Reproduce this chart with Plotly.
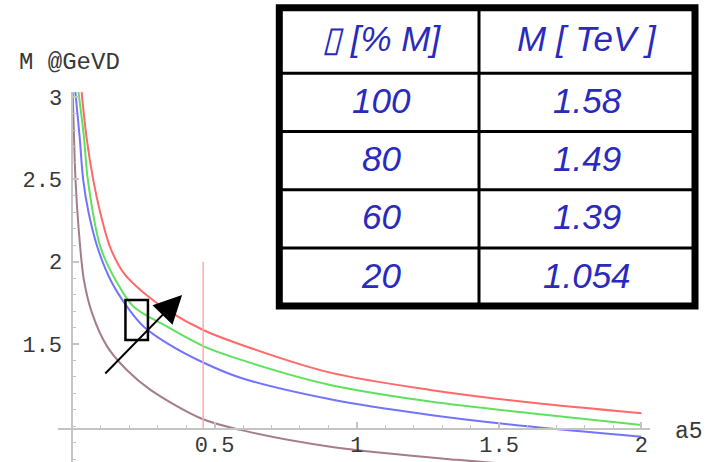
import numpy as np
import plotly.graph_objects as go

# ---------------- data ----------------
red_x = [0.033, 0.050, 0.074, 0.099, 0.133, 0.181, 0.252, 0.334, 0.46, 0.591, 0.907, 1.258, 1.610, 2.0]
red_y = [3.03, 2.759, 2.496, 2.295, 2.089, 1.931, 1.810, 1.706, 1.585, 1.497, 1.326, 1.221, 1.144, 1.079]

green_x = [0.022, 0.041, 0.055, 0.099, 0.152, 0.216, 0.334, 0.462, 0.591, 0.907, 1.258, 1.610, 2.0]
green_y = [3.03, 2.759, 2.496, 2.090, 1.889, 1.726, 1.605, 1.486, 1.405, 1.251, 1.150, 1.079, 1.008]

blue_x = [0.011, 0.026, 0.0386, 0.058, 0.088, 0.1345, 0.193, 0.2515, 0.334, 0.462, 0.591, 0.907, 1.258, 1.610, 2.0]
blue_y = [3.03, 2.759, 2.496, 2.294, 2.091, 1.889, 1.726, 1.605, 1.504, 1.386, 1.295, 1.164, 1.069, 0.998, 0.937]

brown_x = [0.002, 0.0116, 0.023, 0.041, 0.070, 0.123, 0.190, 0.275, 0.451, 0.591, 0.907, 1.352, 1.700, 2.0]
brown_y = [3.03, 2.496, 2.190, 1.889, 1.686, 1.484, 1.345, 1.221, 1.049, 0.978, 0.876, 0.796, 0.750, 0.720]

cut_x = [0.46, 0.46]
cut_y = [0.985, 2.0]

x_tick_vals = [0.5, 1, 1.5, 2]
x_tick_text = ["0.5", "1", "1.5", "2"]
y_tick_vals = [1.5, 2, 2.5, 3]
y_tick_text = ["1.5", "2", "2.5", "3"]

y_label = "M @GeVD"
x_label = "a5"

table_header = ["\u25af [% M]", "M [ TeV ]"]
table_gamma = ["100", "80", "60", "20"]
table_mass = ["1.58", "1.49", "1.39", "1.054"]

# ---------------- layout geometry ----------------
W, H = 713, 462
ML, MR, MT, MB = 58, 63, 92, 0
PW, PH = W - ML - MR, H - MT - MB
x_range = [-0.05, 2.03]
y_range = [0.783, 3.031]
axis_cross_y = 0.985


def fx(px):
    return (px - ML) / PW


def fy(py):
    return (H - MB - py) / PH


fig = go.Figure()

curve_styles = [
    (brown_x, brown_y, "rgb(165,125,135)"),
    (blue_x, blue_y, "rgb(115,115,255)"),
    (green_x, green_y, "rgb(95,225,95)"),
    (red_x, red_y, "rgb(255,105,105)"),
]
for xs, ys, col in curve_styles:
    fig.add_trace(go.Scatter(x=xs, y=ys, mode="lines",
                             line=dict(color=col, width=2, shape="spline", smoothing=0.9),
                             hoverinfo="skip", showlegend=False))

fig.add_trace(go.Scatter(x=cut_x, y=cut_y, mode="lines",
                         line=dict(color="rgb(255,170,170)", width=1.5),
                         hoverinfo="skip", showlegend=False))

tick_font = dict(family="Liberation Mono", size=22, color="#383838")
axis_col = "#c4c4c4"

fig.update_layout(
    width=W, height=H,
    margin=dict(l=ML, r=MR, t=MT, b=MB, pad=0),
    paper_bgcolor="white", plot_bgcolor="white",
    showlegend=False,
    xaxis=dict(range=x_range, showgrid=False, zeroline=False,
               showline=True, linecolor=axis_col, linewidth=1.5,
               anchor="free", position=(axis_cross_y - y_range[0]) / (y_range[1] - y_range[0]),
               tickmode="array", tickvals=x_tick_vals, ticktext=x_tick_text,
               ticks="inside", ticklen=6, tickcolor=axis_col, tickwidth=1.5,
               tickfont=tick_font, ticklabelstandoff=-4,
               minor=dict(tickmode="array", tickvals=list(np.round(np.arange(0.0, 2.01, 0.1), 2)),
                          ticks="inside", ticklen=3, tickcolor=axis_col, tickwidth=1)),
    yaxis=dict(range=y_range, showgrid=False, zeroline=False,
               showline=True, linecolor=axis_col, linewidth=1.5,
               anchor="free", position=(0 - x_range[0]) / (x_range[1] - x_range[0]),
               tickmode="array", tickvals=y_tick_vals, ticktext=y_tick_text,
               ticks="inside", ticklen=6, tickcolor=axis_col, tickwidth=1.5,
               tickfont=tick_font, ticklabelstandoff=5,
               minor=dict(tickmode="array", tickvals=list(np.round(np.arange(0.8, 3.01, 0.1), 2)),
                          ticks="inside", ticklen=3, tickcolor=axis_col, tickwidth=1)),
)

# axis labels
fig.add_annotation(text=y_label, xref="paper", yref="paper", x=fx(17), y=fy(63),
                   xanchor="left", yanchor="middle", showarrow=False,
                   font=dict(family="Liberation Mono", size=24, color="#383838"))
fig.add_annotation(text=x_label, xref="paper", yref="paper", x=fx(673), y=fy(432),
                   xanchor="left", yanchor="middle", showarrow=False,
                   font=dict(family="Liberation Mono", size=23, color="#383838"))

# box and arrow on the plot
fig.add_shape(type="rect", xref="x", yref="y", x0=0.187, x1=0.266, y0=1.524, y1=1.767,
              line=dict(color="black", width=2.5), fillcolor="rgba(0,0,0,0)")
fig.add_annotation(x=0.386, y=1.798, ax=0.111, ay=1.312, xref="x", yref="y",
                   axref="x", ayref="y", text="", showarrow=True,
                   arrowhead=2, arrowsize=2.8, arrowwidth=2, arrowcolor="black", standoff=0)

# ---------------- table ----------------
tab_left, tab_right, tab_mid = 279.3, 695.0, 479.0
row_bounds = [7.8, 73.3, 131.5, 189.8, 248.0, 306.0]
text_font = dict(family="Liberation Sans", size=35, color="rgb(42,42,188)")

fig.add_shape(type="rect", xref="paper", yref="paper",
              x0=fx(tab_left), x1=fx(tab_right), y0=fy(row_bounds[-1]), y1=fy(row_bounds[0]),
              line=dict(color="black", width=7), fillcolor="white", layer="above")
for yb in row_bounds[1:-1]:
    fig.add_shape(type="line", xref="paper", yref="paper",
                  x0=fx(tab_left), x1=fx(tab_right), y0=fy(yb), y1=fy(yb),
                  line=dict(color="black", width=3))
fig.add_shape(type="line", xref="paper", yref="paper",
              x0=fx(tab_mid), x1=fx(tab_mid), y0=fy(row_bounds[0]), y1=fy(row_bounds[-1]),
              line=dict(color="black", width=3))

col_centres = [(tab_left + tab_mid) / 2 + 2, (tab_mid + tab_right) / 2]
rows = [table_header] + [[g, m] for g, m in zip(table_gamma, table_mass)]
for i, row in enumerate(rows):
    yc = (row_bounds[i] + row_bounds[i + 1]) / 2 - 2
    for j, txt in enumerate(row):
        fig.add_annotation(text="<i>" + txt + "</i>", xref="paper", yref="paper",
                           x=fx(col_centres[j]), y=fy(yc), xanchor="center", yanchor="middle",
                           showarrow=False, font=text_font)

fig.write_html("out.html", config={"displayModeBar": False},
               post_script="document.body.style.margin='0';document.body.style.overflow='hidden';")
